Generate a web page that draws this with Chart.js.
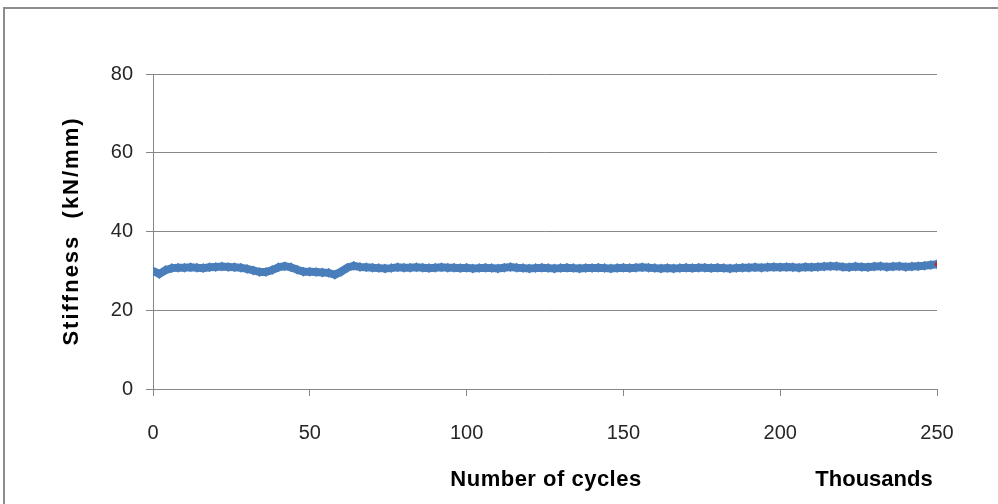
<!DOCTYPE html>
<html>
<head>
<meta charset="utf-8">
<script src="https://cdn.jsdelivr.net/npm/chart.js@4/dist/chart.umd.min.js"></script>
<style>
  html, body { margin: 0; padding: 0; background: #ffffff; }
  canvas { display: block; }
</style>
</head>
<body>
<canvas id="chart" width="998" height="504"></canvas>
<script>
// Number of cycles (thousands)
const cycles = [
  0, 2, 4, 6, 8, 10, 12, 14, 16, 18, 20, 22, 24, 26, 28, 30, 32, 34, 36, 38,
  40, 42, 44, 46, 48, 50, 52, 54, 56, 58, 60, 62, 64, 66, 68, 70, 72, 74, 76, 78,
  80, 82, 84, 86, 88, 90, 92, 94, 96, 98, 100, 102, 104, 106, 108, 110, 112, 114, 116, 118,
  120, 122, 124, 126, 128, 130, 132, 134, 136, 138, 140, 142, 144, 146, 148, 150, 152, 154, 156, 158,
  160, 162, 164, 166, 168, 170, 172, 174, 176, 178, 180, 182, 184, 186, 188, 190, 192, 194, 196, 198,
  200, 202, 204, 206, 208, 210, 212, 214, 216, 218, 220, 222, 224, 226, 228, 230, 232, 234, 236, 238,
  240, 242, 244, 246, 248, 250
];

// Stiffness (kN/mm)
const stiffness = [
  30.0, 29.2, 30.2, 30.7, 30.8, 30.8, 30.9, 30.8, 30.7, 30.9, 31.0, 31.1, 31.0, 30.9, 30.8, 30.5, 30.1, 29.7, 29.7, 30.2,
  30.9, 31.2, 30.9, 30.3, 29.8, 29.8, 29.7, 29.6, 29.5, 29.0, 29.8, 30.8, 31.3, 31.0, 30.9, 30.8, 30.7, 30.6, 30.7, 30.9,
  30.8, 30.8, 30.9, 30.8, 30.7, 30.8, 30.9, 30.8, 30.8, 30.7, 30.8, 30.6, 30.7, 30.8, 30.7, 30.6, 30.8, 31.0, 30.8, 30.7,
  30.6, 30.7, 30.8, 30.7, 30.6, 30.7, 30.8, 30.7, 30.6, 30.7, 30.7, 30.8, 30.7, 30.6, 30.7, 30.8, 30.7, 30.8, 30.9, 30.8,
  30.7, 30.6, 30.7, 30.6, 30.7, 30.8, 30.7, 30.8, 30.8, 30.7, 30.8, 30.7, 30.6, 30.7, 30.8, 30.8, 30.9, 30.8, 30.9, 31.0,
  30.9, 31.0, 30.9, 30.8, 31.0, 30.9, 31.0, 31.1, 31.2, 31.2, 31.0, 30.9, 31.1, 31.0, 30.9, 31.1, 31.2, 31.0, 31.1, 31.2,
  31.0, 31.1, 31.2, 31.3, 31.5, 31.7
];

// Final reading, marked separately
const lastCycle = [250];
const lastStiffness = [31.7];

// Axis ticks and labels
const xTicks = [0, 50, 100, 150, 200, 250];
const yTicks = [0, 20, 40, 60, 80];
const xTitle = 'Number of cycles';
const xUnit = 'Thousands';
const yTitle = 'Stiffness  (kN/mm)';

const mainPoints = cycles.map((c, i) => ({ x: c, y: stiffness[i] }));
const lastPoints = lastCycle.map((c, i) => ({ x: c, y: lastStiffness[i] }));

const TICK_FONT = { family: 'Liberation Sans', size: 20 };
const TITLE_FONT = 'bold 22px "Liberation Sans"';
const GREY = '#878787';

const framePlugin = {
  id: 'frame',
  beforeDraw(chart) {
    const ctx = chart.ctx;
    ctx.save();
    ctx.fillStyle = '#ffffff';
    ctx.fillRect(0, 0, chart.width, chart.height);
    ctx.strokeStyle = '#8c8c8c';
    ctx.lineWidth = 2;
    ctx.strokeRect(4, 8, chart.width + 10, chart.height + 10);
    ctx.restore();
  }
};

const titlesPlugin = {
  id: 'titles',
  afterDraw(chart) {
    const ctx = chart.ctx;
    const a = chart.chartArea;
    ctx.save();
    ctx.fillStyle = '#000000';
    ctx.font = TITLE_FONT;
    ctx.textAlign = 'center';
    ctx.textBaseline = 'middle';
    ctx.letterSpacing = '0.5px';
    ctx.fillText(xTitle, a.left + 393, a.bottom + 91);
    ctx.letterSpacing = '0px';
    ctx.fillText(xUnit, a.left + 721, a.bottom + 91);
    ctx.translate(a.left - 81, a.top + 157);
    ctx.rotate(-Math.PI / 2);
    ctx.letterSpacing = '2px';
    ctx.fillText(yTitle, 0, 0);
    ctx.restore();
  }
};

new Chart(document.getElementById('chart'), {
  type: 'line',
  data: {
    datasets: [
      {
        label: 'Stiffness',
        data: mainPoints,
        borderColor: '#4A7EBB',
        backgroundColor: '#4A7EBB',
        borderWidth: 8,
        pointStyle: 'rectRot',
        pointRadius: 5,
        pointBorderWidth: 0,
        tension: 0,
        order: 2
      },
      {
        label: 'Last',
        data: lastPoints,
        showLine: false,
        borderColor: '#C0282D',
        backgroundColor: '#C0282D',
        pointStyle: 'rectRot',
        pointRadius: 3,
        pointBorderWidth: 0,
        order: 1
      }
    ]
  },
  options: {
    responsive: false,
    animation: false,
    devicePixelRatio: 1,
    layout: { padding: { left: 93, right: 61, top: 74, bottom: 55 } },
    plugins: {
      legend: { display: false },
      tooltip: { enabled: false }
    },
    scales: {
      x: {
        type: 'linear',
        min: 0,
        max: 250,
        afterFit(scale) { scale.height = 60; },
        afterBuildTicks(scale) { scale.ticks = xTicks.map(v => ({ value: v })); },
        grid: { drawOnChartArea: false, drawTicks: true, tickLength: 7, color: GREY, tickColor: GREY },
        border: { color: GREY, width: 1 },
        ticks: { font: TICK_FONT, color: '#262626', padding: 25, maxRotation: 0 }
      },
      y: {
        min: 0,
        max: 80,
        afterFit(scale) { scale.width = 60; },
        afterBuildTicks(scale) { scale.ticks = yTicks.map(v => ({ value: v })); },
        grid: { color: GREY, tickLength: 7, tickColor: GREY },
        border: { color: GREY, width: 1 },
        ticks: { font: TICK_FONT, color: '#262626', padding: 13 }
      }
    }
  },
  plugins: [framePlugin, titlesPlugin]
});
</script>
</body>
</html>
